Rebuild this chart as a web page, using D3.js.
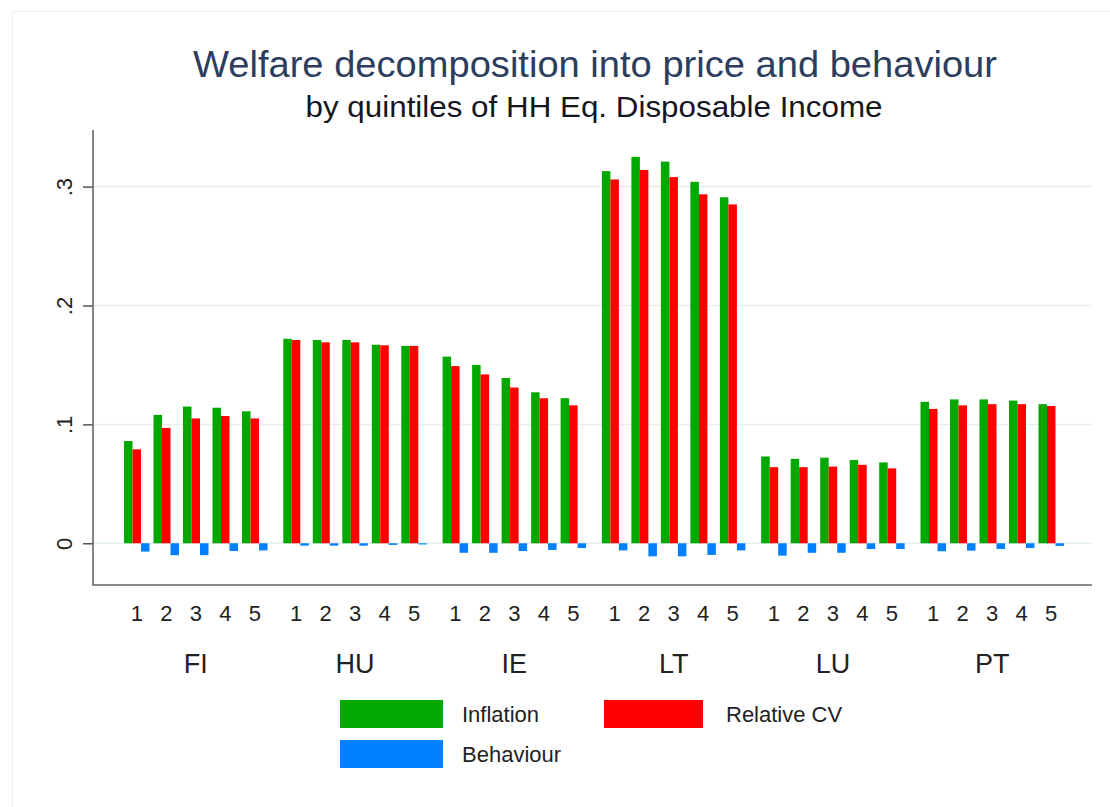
<!DOCTYPE html>
<html>
<head>
<meta charset="utf-8">
<script src="https://cdn.jsdelivr.net/npm/d3@7"></script>
<style>
	body { margin: 0; background: #fff; }
	text { font-family: "Liberation Sans", Arial, sans-serif; }
</style>
</head>
<body>
<div id="chart"></div>
<script>

const countries = ['FI', 'HU', 'IE', 'LT', 'LU', 'PT'];
const quintiles = ['1', '2', '3', '4', '5'];
const seriesNames = ['Inflation', 'Relative CV', 'Behaviour'];
const seriesColors = ['#00a800', '#ff0000', '#0080ff'];
const yTicks = [0, 0.1, 0.2, 0.3];
const yTickLabels = ['0', '.1', '.2', '.3'];

// one row per country, one value per quintile
const inflation = [
	[0.086, 0.108, 0.115, 0.114, 0.111],
	[0.172, 0.171, 0.171, 0.167, 0.166],
	[0.157, 0.150, 0.139, 0.127, 0.122],
	[0.313, 0.325, 0.321, 0.304, 0.291],
	[0.073, 0.071, 0.072, 0.070, 0.068],
	[0.119, 0.121, 0.121, 0.120, 0.117]
];
const relativeCV = [
	[0.079, 0.097, 0.105, 0.107, 0.105],
	[0.171, 0.169, 0.169, 0.1665, 0.166],
	[0.149, 0.142, 0.131, 0.122, 0.116],
	[0.306, 0.314, 0.308, 0.2935, 0.285],
	[0.064, 0.064, 0.0645, 0.066, 0.063],
	[0.113, 0.116, 0.117, 0.117, 0.1155]
];
const behaviour = [
	[-0.007, -0.010, -0.010, -0.0065, -0.006],
	[-0.002, -0.002, -0.002, -0.0014, -0.001],
	[-0.008, -0.008, -0.0065, -0.0056, -0.004],
	[-0.006, -0.011, -0.011, -0.0098, -0.006],
	[-0.0104, -0.008, -0.008, -0.0048, -0.0048],
	[-0.0067, -0.0062, -0.0048, -0.004, -0.0022]
];

const width = 1110;
const height = 807;
const plot = { left: 93, right: 1092, top: 130, bottom: 585 };

const svg = d3.select('#chart')
	.append('svg')
		.attr('width', width)
		.attr('height', height);

// faint outer frame
svg.append('rect')
	.attr('x', 12.5).attr('y', 11.5)
	.attr('width', 1110).attr('height', 800)
	.attr('fill', 'none')
	.attr('stroke', '#efefef');

// titles
svg.append('text')
	.attr('x', 595).attr('y', 77)
	.attr('text-anchor', 'middle')
	.attr('font-size', 37)
	.attr('textLength', 804)
	.attr('lengthAdjust', 'spacingAndGlyphs')
	.attr('fill', '#2d3d5e')
	.text('Welfare decomposition into price and behaviour');

svg.append('text')
	.attr('x', 594).attr('y', 117)
	.attr('text-anchor', 'middle')
	.attr('font-size', 29)
	.attr('textLength', 577)
	.attr('lengthAdjust', 'spacingAndGlyphs')
	.attr('fill', '#16161e')
	.text('by quintiles of HH Eq. Disposable Income');

// scales
const y = d3.scaleLinear()
	.domain([-0.0351, 0.3476])
	.range([plot.bottom, plot.top]);

const x0 = d3.scaleBand()
	.domain(countries)
	.range([122, 1066])
	.paddingInner(0.074);

const x1 = d3.scaleBand()
	.domain(quintiles)
	.range([0, x0.bandwidth()])
	.paddingInner(0.136)
	.paddingOuter(0.068);

const x2 = d3.scaleBand()
	.domain(seriesNames)
	.range([0, x1.bandwidth()]);

// gridlines
svg.append('g')
	.selectAll('line')
	.data(yTicks)
	.join('line')
		.attr('x1', plot.left)
		.attr('x2', plot.right)
		.attr('y1', d => y(d))
		.attr('y2', d => y(d))
		.attr('stroke', '#e6eff0')
		.attr('stroke-width', 1.5);

// y axis
const yAxis = d3.axisLeft(y)
	.tickValues(yTicks)
	.tickSize(10)
	.tickFormat((d, i) => yTickLabels[i]);

const gy = svg.append('g')
	.attr('transform', `translate(${plot.left}, 0)`)
	.call(yAxis);

gy.select('.domain')
	.attr('d', `M0,${plot.top}V${plot.bottom}`)
	.attr('stroke', '#666')
	.attr('stroke-width', 1.6);
gy.selectAll('.tick line')
	.attr('stroke', '#555')
	.attr('stroke-width', 1.5);
gy.selectAll('.tick text')
	.attr('font-size', 22)
	.attr('fill', '#222')
	.attr('text-anchor', 'middle')
	.attr('dy', 0)
	.attr('transform', 'rotate(-90)')
	.attr('x', 0)
	.attr('y', -21);

// x axis line
svg.append('line')
	.attr('x1', plot.left - 0.8)
	.attr('x2', plot.right)
	.attr('y1', plot.bottom)
	.attr('y2', plot.bottom)
	.attr('stroke', '#666')
	.attr('stroke-width', 1.6);

// bars
const rows = [];
countries.forEach((c, ci) => {
	quintiles.forEach((q, qi) => {
		const vals = [inflation[ci][qi], relativeCV[ci][qi], behaviour[ci][qi]];
		vals.forEach((v, si) => {
			rows.push({ country: c, quintile: q, series: seriesNames[si], color: seriesColors[si], value: v });
		});
	});
});

svg.append('g')
	.selectAll('rect')
	.data(rows)
	.join('rect')
		.attr('x', d => x0(d.country) + x1(d.quintile) + x2(d.series))
		.attr('y', d => y(Math.max(0, d.value)))
		.attr('width', x2.bandwidth())
		.attr('height', d => Math.abs(y(d.value) - y(0)))
		.attr('fill', d => d.color);

// quintile labels
const qLabels = [];
countries.forEach(c => quintiles.forEach(q => qLabels.push({ country: c, quintile: q })));

svg.append('g')
	.selectAll('text')
	.data(qLabels)
	.join('text')
		.attr('x', d => x0(d.country) + x1(d.quintile) + x1.bandwidth() / 2)
		.attr('y', 621)
		.attr('text-anchor', 'middle')
		.attr('font-size', 22)
		.attr('fill', '#222')
		.text(d => d.quintile);

// country labels
svg.append('g')
	.selectAll('text')
	.data(countries)
	.join('text')
		.attr('x', d => x0(d) + x0.bandwidth() / 2)
		.attr('y', 673)
		.attr('text-anchor', 'middle')
		.attr('font-size', 27)
		.attr('fill', '#222')
		.text(d => d);

// legend
const legendPos = [
	{ x: 340, y: 700, tx: 462 },
	{ x: 604, y: 700, tx: 726 },
	{ x: 340, y: 740, tx: 462 }
];

const legend = svg.append('g')
	.selectAll('g')
	.data(seriesNames)
	.join('g')
		.attr('transform', (d, i) => `translate(${legendPos[i].x}, ${legendPos[i].y})`);

legend.append('rect')
	.attr('width', (d, i) => i === 1 ? 99 : 103)
	.attr('height', 28)
	.attr('fill', (d, i) => seriesColors[i]);

legend.append('text')
	.attr('x', (d, i) => legendPos[i].tx - legendPos[i].x)
	.attr('y', 22)
	.attr('font-size', 22)
	.attr('fill', '#222')
	.text(d => d);

</script>
</body>
</html>
